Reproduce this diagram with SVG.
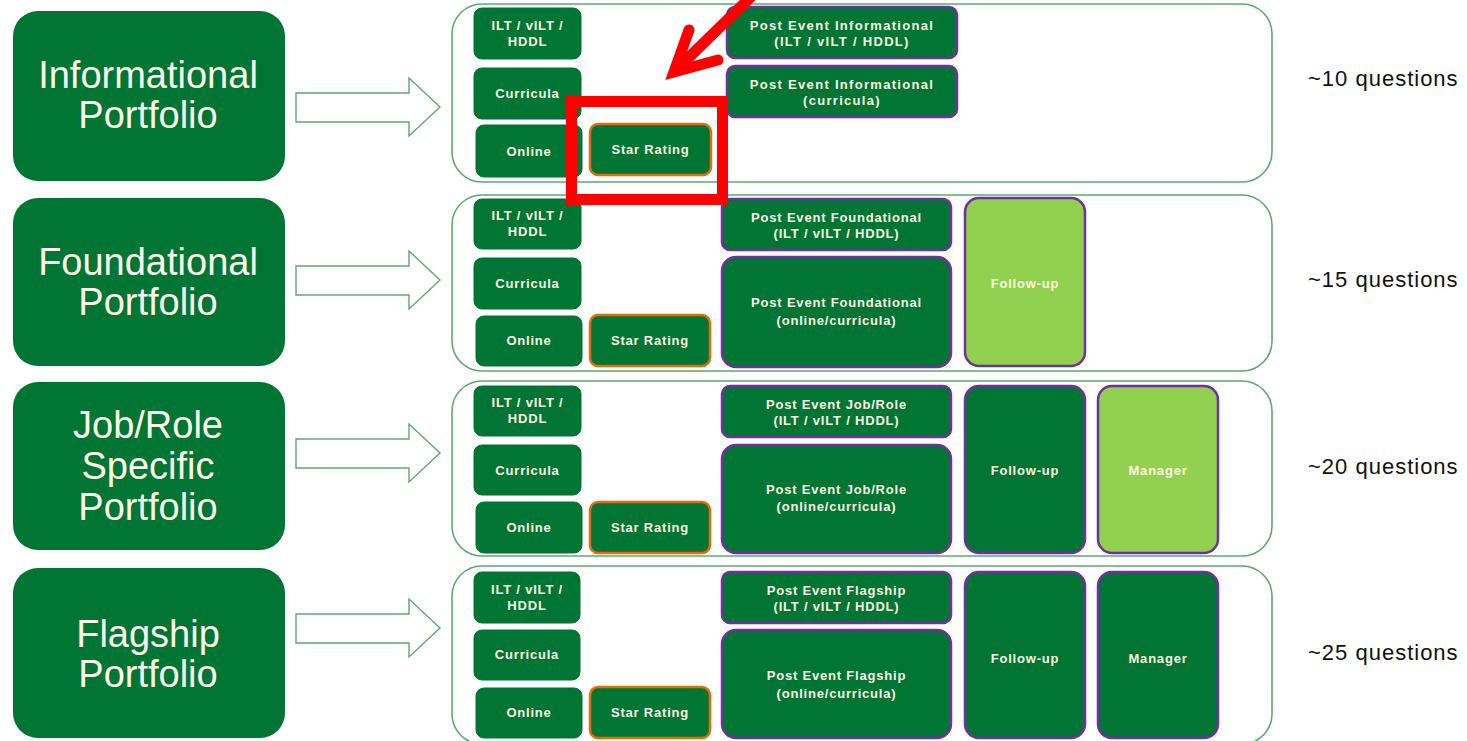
<svg xmlns="http://www.w3.org/2000/svg" width="1467" height="741" viewBox="0 0 1467 741">
<style>
.port{fill:#007534;}
.ptxt{font-family:"Liberation Sans",Arial,sans-serif;font-size:38px;fill:#fffbea;text-anchor:middle;}
.cont{fill:#ffffff;stroke:#5fa872;stroke-width:1.6;}
.dk{fill:#007534;stroke:#007534;stroke-width:1;}
.sr{fill:#007534;stroke:#e46c0a;stroke-width:2.5;}
.pe{fill:#007534;stroke:#7030a0;stroke-width:2.5;}
.lg{fill:#92d050;stroke:#7030a0;stroke-width:2.5;}
.t{font-family:"Liberation Sans",Arial,sans-serif;font-size:13px;font-weight:bold;fill:#fdf8e1;text-anchor:middle;letter-spacing:0.8px;}
.t1{letter-spacing:1.3px;}
.q{font-family:"Liberation Sans",Arial,sans-serif;font-size:22px;fill:#111111;letter-spacing:1px;}
.blk{fill:#ffffff;stroke:#5fa872;stroke-width:1.4;}
.red{fill:none;stroke:#ff0000;stroke-width:11;}
</style>

<!-- Portfolio nodes -->
<g id="informational-portfolio">
<rect class="port" x="13" y="11" width="272" height="170" rx="25"/>
<text class="ptxt" x="148" y="88">Informational</text>
<text class="ptxt" x="148" y="128">Portfolio</text>
</g>
<g id="foundational-portfolio">
<rect class="port" x="13" y="198" width="272" height="168" rx="25"/>
<text class="ptxt" x="148" y="275">Foundational</text>
<text class="ptxt" x="148" y="315">Portfolio</text>
</g>
<g id="jobrole-portfolio">
<rect class="port" x="13" y="382" width="272" height="168" rx="25"/>
<text class="ptxt" x="148" y="438">Job/Role</text>
<text class="ptxt" x="148" y="479">Specific</text>
<text class="ptxt" x="148" y="520">Portfolio</text>
</g>
<g id="flagship-portfolio">
<rect class="port" x="13" y="568" width="272" height="170" rx="25"/>
<text class="ptxt" x="148" y="647">Flagship</text>
<text class="ptxt" x="148" y="687">Portfolio</text>
</g>

<!-- Connectors (block arrows) -->
<g id="connectors">
<path class="blk" d="M296,93 H409 V78 L440,107 L409,136 V122 H296 Z"/>
<path class="blk" d="M296,266 H409 V251 L440,280 L409,309 V295 H296 Z"/>
<path class="blk" d="M296,439 H409 V424 L440,453 L409,482 V468 H296 Z"/>
<path class="blk" d="M296,614 H409 V599 L440,628 L409,657 V643 H296 Z"/>
</g>

<!-- Row 1 -->
<g id="informational-container">
<rect class="cont" x="452" y="4" width="820" height="178" rx="30"/>
</g>
<g id="r1-ilt"><rect class="dk" x="474" y="8" width="107" height="51" rx="8"/><text class="t" x="527.5" y="30">ILT / vILT /</text><text class="t" x="527.5" y="46">HDDL</text></g>
<g id="r1-curricula"><rect class="dk" x="474" y="68" width="107" height="51" rx="8"/><text class="t" x="527.5" y="98">Curricula</text></g>
<g id="r1-online"><rect class="dk" x="476" y="125" width="106" height="52" rx="8"/><text class="t" x="529" y="156">Online</text></g>
<g id="r1-star"><rect class="sr" x="590" y="124" width="121" height="51" rx="8"/><text class="t" x="650.5" y="154">Star Rating</text></g>
<g id="r1-pe1"><rect class="pe" x="727" y="7" width="230" height="51" rx="8"/><text class="t t1" x="842" y="30">Post Event Informational</text><text class="t t1" x="842" y="46">(ILT / vILT / HDDL)</text></g>
<g id="r1-pe2"><rect class="pe" x="727" y="66" width="230" height="51" rx="8"/><text class="t t1" x="842" y="89">Post Event Informational</text><text class="t t1" x="842" y="105">(curricula)</text></g>
<g id="q1"><text class="q" x="1308" y="86">~10 questions</text></g>

<!-- Row 2 -->
<g id="foundational-container">
<rect class="cont" x="452" y="195" width="820" height="176" rx="30"/>
</g>
<g id="r2-ilt"><rect class="dk" x="474" y="199" width="107" height="50" rx="8"/><text class="t" x="527.5" y="220">ILT / vILT /</text><text class="t" x="527.5" y="236">HDDL</text></g>
<g id="r2-curricula"><rect class="dk" x="474" y="258" width="107" height="51" rx="8"/><text class="t" x="527.5" y="288">Curricula</text></g>
<g id="r2-online"><rect class="dk" x="476" y="316" width="106" height="50" rx="8"/><text class="t" x="529" y="345">Online</text></g>
<g id="r2-star"><rect class="sr" x="590" y="315" width="120" height="51" rx="8"/><text class="t" x="650" y="345">Star Rating</text></g>
<g id="r2-pe1"><rect class="pe" x="722" y="199" width="229" height="51" rx="8"/><text class="t" x="836.5" y="222">Post Event Foundational</text><text class="t" x="836.5" y="238">(ILT / vILT / HDDL)</text></g>
<g id="r2-pe2"><rect class="pe" x="722" y="257" width="229" height="110" rx="14"/><text class="t" x="836.5" y="307">Post Event Foundational</text><text class="t" x="836.5" y="325">(online/curricula)</text></g>
<g id="r2-followup"><rect class="lg" x="965" y="198" width="120" height="168" rx="14"/><text class="t" x="1025" y="288">Follow-up</text></g>
<g id="q2"><text class="q" x="1308" y="287">~15 questions</text></g>

<!-- Row 3 -->
<g id="jobrole-container">
<rect class="cont" x="452" y="381" width="820" height="175" rx="30"/>
</g>
<g id="r3-ilt"><rect class="dk" x="474" y="386" width="107" height="50" rx="8"/><text class="t" x="527.5" y="407">ILT / vILT /</text><text class="t" x="527.5" y="423">HDDL</text></g>
<g id="r3-curricula"><rect class="dk" x="474" y="445" width="107" height="50" rx="8"/><text class="t" x="527.5" y="475">Curricula</text></g>
<g id="r3-online"><rect class="dk" x="476" y="502" width="106" height="51" rx="8"/><text class="t" x="529" y="532">Online</text></g>
<g id="r3-star"><rect class="sr" x="590" y="502" width="120" height="51" rx="8"/><text class="t" x="650" y="532">Star Rating</text></g>
<g id="r3-pe1"><rect class="pe" x="722" y="386" width="229" height="51" rx="8"/><text class="t" x="836.5" y="409">Post Event Job/Role</text><text class="t" x="836.5" y="425">(ILT / vILT / HDDL)</text></g>
<g id="r3-pe2"><rect class="pe" x="722" y="445" width="229" height="108" rx="14"/><text class="t" x="836.5" y="494">Post Event Job/Role</text><text class="t" x="836.5" y="511">(online/curricula)</text></g>
<g id="r3-followup"><rect class="pe" x="965" y="386" width="120" height="167" rx="14"/><text class="t" x="1025" y="475">Follow-up</text></g>
<g id="r3-manager"><rect class="lg" x="1098" y="386" width="120" height="167" rx="14"/><text class="t" x="1158" y="475">Manager</text></g>
<g id="q3"><text class="q" x="1308" y="474">~20 questions</text></g>

<!-- Row 4 -->
<g id="flagship-container">
<rect class="cont" x="452" y="566" width="820" height="178" rx="30"/>
</g>
<g id="r4-ilt"><rect class="dk" x="474" y="572" width="106" height="51" rx="8"/><text class="t" x="527" y="594">ILT / vILT /</text><text class="t" x="527" y="610">HDDL</text></g>
<g id="r4-curricula"><rect class="dk" x="474" y="630" width="106" height="50" rx="8"/><text class="t" x="527" y="659">Curricula</text></g>
<g id="r4-online"><rect class="dk" x="476" y="688" width="106" height="50" rx="8"/><text class="t" x="529" y="717">Online</text></g>
<g id="r4-star"><rect class="sr" x="590" y="687" width="120" height="51" rx="8"/><text class="t" x="650" y="717">Star Rating</text></g>
<g id="r4-pe1"><rect class="pe" x="722" y="572" width="229" height="51" rx="8"/><text class="t" x="836.5" y="595">Post Event Flagship</text><text class="t" x="836.5" y="611">(ILT / vILT / HDDL)</text></g>
<g id="r4-pe2"><rect class="pe" x="722" y="630" width="229" height="108" rx="14"/><text class="t" x="836.5" y="680">Post Event Flagship</text><text class="t" x="836.5" y="698">(online/curricula)</text></g>
<g id="r4-followup"><rect class="pe" x="965" y="572" width="120" height="166" rx="14"/><text class="t" x="1025" y="663">Follow-up</text></g>
<g id="r4-manager"><rect class="pe" x="1098" y="572" width="120" height="166" rx="14"/><text class="t" x="1158" y="663">Manager</text></g>
<g id="q4"><text class="q" x="1308" y="660">~25 questions</text></g>

<!-- Red annotation -->
<g id="annotation">
<rect class="red" x="571.5" y="101.5" width="151" height="98"/>
<line class="red" x1="760" y1="-12" x2="676" y2="70" stroke-linecap="round"/>
<polyline class="red" points="689,30 674,72 718,60" stroke-linecap="round" stroke-linejoin="miter"/>
</g>
</svg>
